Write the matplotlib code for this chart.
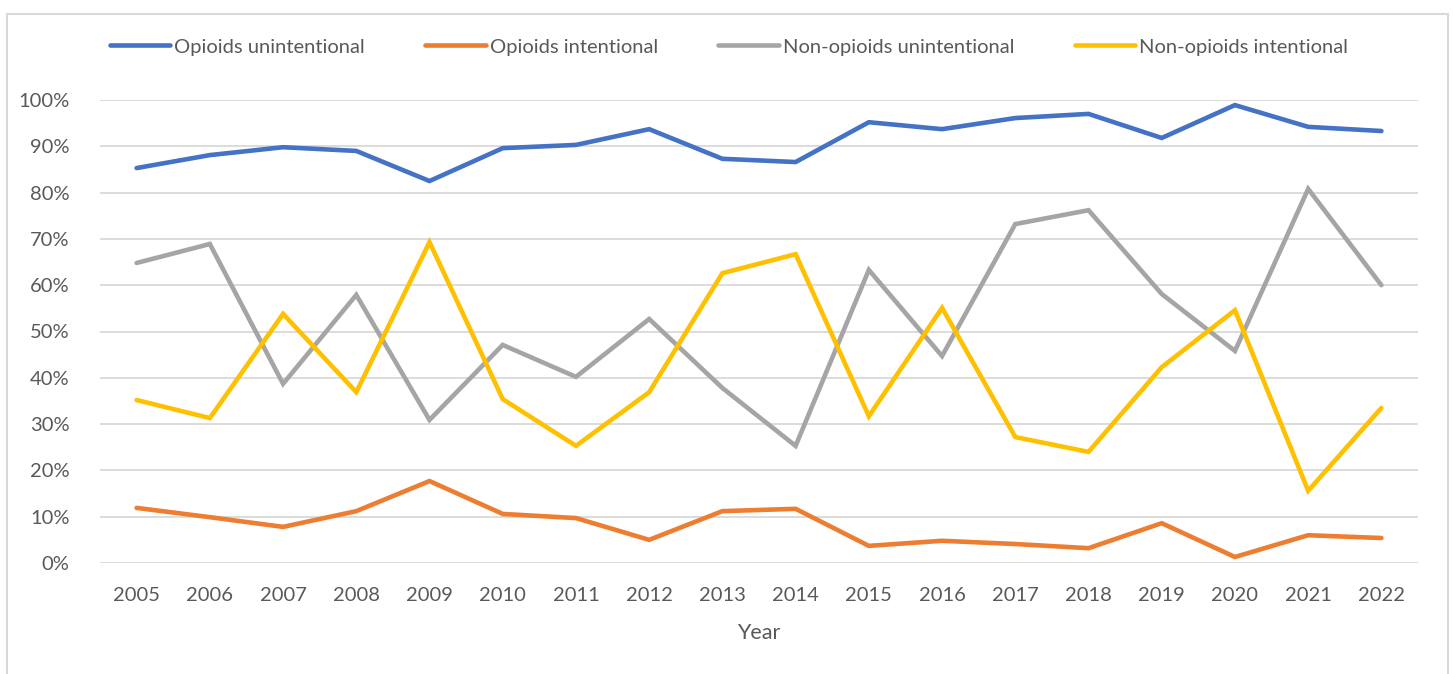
import matplotlib
matplotlib.use("Agg")
import matplotlib.pyplot as plt
from matplotlib.patches import Rectangle
from matplotlib.ticker import PercentFormatter

years = [str(y) for y in range(2005, 2023)]

opioids_unint = [85.3, 88.1, 89.8, 89.0, 82.5, 89.6, 90.3, 93.7, 87.3, 86.6,
                 95.2, 93.7, 96.1, 97.0, 91.8, 98.9, 94.2, 93.3]
opioids_int = [11.9, 9.9, 7.8, 11.2, 17.7, 10.6, 9.7, 5.0, 11.2, 11.7,
               3.7, 4.8, 4.1, 3.2, 8.6, 1.3, 6.0, 5.4]
nonop_unint = [64.8, 68.9, 38.7, 57.9, 30.9, 47.1, 40.2, 52.7, 37.8, 25.3,
               63.3, 44.7, 73.2, 76.2, 58.1, 45.8, 80.8, 60.0]
nonop_int = [35.2, 31.3, 53.8, 36.9, 69.3, 35.4, 25.3, 36.9, 62.6, 66.7,
             31.7, 55.1, 27.2, 24.0, 42.3, 54.6, 15.6, 33.5]

labels = ["Opioids unintentional", "Opioids intentional",
          "Non-opioids unintentional", "Non-opioids intentional"]
colors = ["#4472C4", "#ED7D31", "#A5A5A5", "#FFC000"]

plt.rcParams['font.family'] = ['Lato', 'DejaVu Sans']
txt = "#595959"

fig = plt.figure(figsize=(14.53, 6.74), dpi=100)
# chart frame
fig.patches.append(Rectangle((7 / 1453, -0.01), 1441 / 1453, 1 - 14 / 674 + 0.01,
                             transform=fig.transFigure, fill=False,
                             edgecolor="#d9d9d9", linewidth=1.5))

ax = fig.add_axes([100 / 1453, 1 - 563 / 674, 1318 / 1453, 463 / 674])
x = list(range(len(years)))
series = [opioids_unint, opioids_int, nonop_unint, nonop_int]
for vals, lab, c in zip(series, labels, colors):
    ax.plot(x, vals, color=c, lw=3.3, label=lab, solid_capstyle="round",
            solid_joinstyle="miter", zorder=3)

ax.set_xlim(-0.5, len(years) - 0.5)
ax.set_ylim(0, 100)
ax.set_yticks(range(0, 101, 10))
ax.yaxis.set_major_formatter(PercentFormatter(decimals=0))
ax.set_xticks(x)
ax.set_xticklabels(years)
ax.grid(axis="y", color="#d9d9d9", lw=1.3)
ax.set_axisbelow(True)
for s in ax.spines.values():
    s.set_visible(False)
ax.tick_params(length=0, labelsize=14.5, colors=txt)
ax.tick_params(axis="x", pad=17)
ax.tick_params(axis="y", pad=22)
ax.set_xlabel("Year", fontsize=15.5, color=txt, labelpad=14)

fig.legend(loc="center", bbox_to_anchor=(729 / 1453, 1 - 47 / 674), ncol=4,
           frameon=False, fontsize=14.5, handlelength=3.0, handletextpad=0.2,
           columnspacing=3.0, labelcolor=txt)

fig.savefig("out.png", dpi=100)
